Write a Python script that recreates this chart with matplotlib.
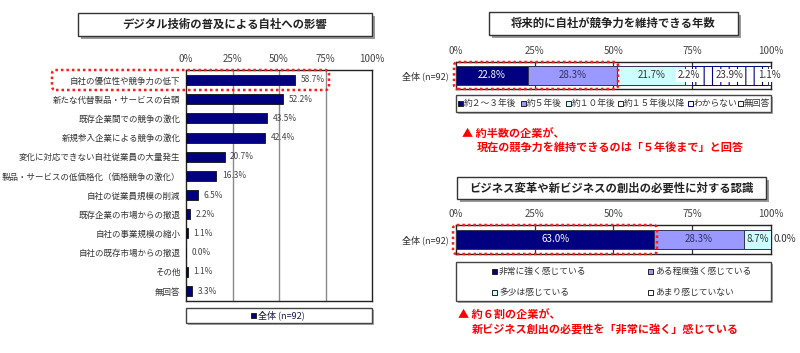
import matplotlib
matplotlib.use('Agg')
import matplotlib.pyplot as plt
from matplotlib.patches import Rectangle, FancyBboxPatch
from matplotlib.transforms import Affine2D

plt.rcParams['font.family'] = ['Noto Sans CJK JP', 'DejaVu Sans']
plt.rcParams['hatch.linewidth'] = 0.8

# ---------------- data ----------------
impact_title = 'デジタル技術の普及による自社への影響'
impact_categories = [
    '自社の優位性や競争力の低下',
    '新たな代替製品・サービスの台頭',
    '既存企業間での競争の激化',
    '新規参入企業による競争の激化',
    '変化に対応できない自社従業員の大量発生',
    '製品・サービスの低価格化（価格競争の激化）',
    '自社の従業員規模の削減',
    '既存企業の市場からの撤退',
    '自社の事業規模の縮小',
    '自社の既存市場からの撤退',
    'その他',
    '無回答',
]
impact_values = [58.7, 52.2, 43.5, 42.4, 20.7, 16.3, 6.5, 2.2, 1.1, 0.0, 1.1, 3.3]
series_name = '全体 (n=92)'

years_title = '将来的に自社が競争力を維持できる年数'
years_labels = ['約２～３年後', '約５年後', '約１０年後', '約１５年後以降', 'わからない', '無回答']
years_values = [22.8, 28.3, 21.7, 2.2, 23.9, 1.1]
years_note = ['▲ 約半数の企業が、', '現在の競争力を維持できるのは「５年後まで」と回答']

need_title = 'ビジネス変革や新ビジネスの創出の必要性に対する認識'
need_labels = ['非常に強く感じている', 'ある程度強く感じている', '多少は感じている', 'あまり感じていない']
need_values = [63.0, 28.3, 8.7, 0.0]
need_note = ['▲ 約６割の企業が、', '新ビジネス創出の必要性を「非常に強く」感じている']

pct_ticks = [0, 25, 50, 75, 100]
pct_tick_labels = ['0%', '25%', '50%', '75%', '100%']

# ---------------- layout helpers ----------------
W, H = 800, 353
fig = plt.figure(figsize=(W / 100, H / 100), dpi=100)
fig.patch.set_facecolor('white')
T = Affine2D().scale(1 / W, 1 / H) + fig.transFigure


def P(y):
    return H - y


def add_ax(x0, y0, x1, y1):
    return fig.add_axes([x0 / W, 1 - y1 / H, (x1 - x0) / W, (y1 - y0) / H])


def title_box(x0, y0, x1, y1, text):
    w, h = x1 - x0, y1 - y0
    fig.patches.append(Rectangle((x0 + 3, P(y1) - 3), w, h, transform=T,
                                 fc='#9a9a9a', ec='none', zorder=1))
    fig.patches.append(Rectangle((x0, P(y1)), w, h, transform=T,
                                 fc='white', ec='#333333', lw=1, zorder=2))
    fig.text((x0 + x1) / 2 / W, 1 - (y0 + y1) / 2 / H, text, ha='center', va='center',
             fontsize=8.2, fontweight='bold', color='#222222', zorder=3)


def plain_box(x0, y0, x1, y1):
    w, h = x1 - x0, y1 - y0
    fig.patches.append(Rectangle((x0 + 1.5, P(y1) - 1.5), w, h, transform=T,
                                 fc='#aaaaaa', ec='none', zorder=1))
    fig.patches.append(Rectangle((x0, P(y1)), w, h, transform=T,
                                 fc='white', ec='#444444', lw=1, zorder=2))


def marker(x, y, fc, hatch=None, ec='#222222'):
    fig.patches.append(Rectangle((x, P(y) - 2.5), 5, 5, transform=T, fc=fc, ec=ec,
                                 lw=0.7, hatch=hatch, zorder=3))


def ftext(x, y, s, **kw):
    fig.text(x / W, 1 - y / H, s, va='center', zorder=4, **kw)


def red_dotted(x0, y0, x1, y1):
    fig.patches.append(FancyBboxPatch((x0, P(y1)), x1 - x0, y1 - y0,
                                      boxstyle='round,pad=0,rounding_size=4', transform=T,
                                      fill=False, ec='#ff1a1a', lw=1.8, ls=(0, (1, 1.2)),
                                      zorder=10))


def pct_axis(ax):
    ax.set_xlim(0, 100)
    ax.xaxis.tick_top()
    ax.set_xticks(pct_ticks)
    ax.set_xticklabels(pct_tick_labels, fontsize=7, color='#444444')
    ax.tick_params(axis='x', length=0, pad=4)
    for s in ax.spines.values():
        s.set_color('#222222')
        s.set_linewidth(1)


# ---------------- left: horizontal bars ----------------
title_box(78, 13, 372, 36, impact_title)
ax1 = add_ax(186, 70, 372, 301)
ypos = list(range(len(impact_categories)))
ax1.barh(ypos, impact_values, height=0.52, color='#000080', edgecolor='#111111',
         lw=0.6, zorder=3)
pct_axis(ax1)
ax1.set_ylim(len(impact_categories) - 0.48, -0.52)
for g in pct_ticks[1:-1]:
    ax1.axvline(g, color='#8a8a8a', lw=1, zorder=1)
ax1.set_yticks(ypos)
ax1.set_yticklabels(impact_categories, fontsize=6.1, color='#333333')
ax1.tick_params(axis='y', length=0, pad=4)
for i, v in enumerate(impact_values):
    ax1.annotate(f'{v:.1f}%', (v, i), xytext=(4, 0), textcoords='offset points',
                 va='center', ha='left', fontsize=6, color='#444444')
red_dotted(52, 70, 329, 90)

plain_box(186, 308, 372, 323)
marker(251, 315.5, '#000080')
ftext(258, 315.5, series_name, fontsize=6.5, color='#1a1a50')


# ---------------- right: stacked bars ----------------
def stacked(ax, values, colors, hatches, tcolors, boxed, bar_h):
    left = 0
    for v, c, hch, tc, bx in zip(values, colors, hatches, tcolors, boxed):
        ec = '#000080' if hch else '#333355'
        if v > 0:
            ax.barh([0], [v], left=left, height=bar_h, color=c, edgecolor=ec,
                    hatch=hch, lw=0.7, zorder=3)
        kw = dict(fontsize=7, color=tc, va='center', zorder=5, clip_on=False)
        if bx:
            kw['bbox'] = dict(fc='white', ec='none', pad=1)
        if v > 0:
            ax.text(left + v / 2, 0, f'{v:.1f}%', ha='center', **kw)
        else:
            ax.annotate(f'{v:.1f}%', (left, 0), xytext=(1.5, 0), textcoords='offset points',
                        ha='left', va='center', fontsize=7, color=tc, annotation_clip=False)
        left += v
    pct_axis(ax)
    ax.set_ylim(-0.5, 0.5)
    for g in pct_ticks[1:-1]:
        ax.axvline(g, color='#333333', lw=0.9, zorder=1)
    ax.set_yticks([0])
    ax.set_yticklabels([series_name], fontsize=6.5, color='#333333')
    ax.tick_params(axis='y', length=0, pad=5)


seg_colors = ['#000080', '#9999ff', '#ccffff', 'white', 'white', 'white']

title_box(489, 12, 738, 35, years_title)
ax2 = add_ax(456, 62, 771, 89)
stacked(ax2, years_values, seg_colors,
        [None, None, None, None, '||', None],
        ['white', '#303060', '#333333', '#333333', '#333333', '#333333'],
        [False, False, False, True, True, True], 0.7)
red_dotted(454, 62, 618, 89)

plain_box(456, 95, 771, 112)
yl_x = [458, 521, 566, 618, 688, 738]
yl_hatch = [None, None, None, None, '||', None]
for x, lab, c, hch in zip(yl_x, years_labels, seg_colors, yl_hatch):
    marker(x, 103.5, c, hatch=hch, ec='#000080' if hch else '#222222')
    ftext(x + 6, 103.5, lab, fontsize=6.3, color='#333333')

ftext(462, 133, years_note[0], fontsize=8, fontweight='bold', color='#ff0000')
ftext(477, 147, years_note[1], fontsize=8, fontweight='bold', color='#ff0000')

title_box(457, 177, 766, 199, need_title)
ax3 = add_ax(456, 225, 771, 254)
stacked(ax3, need_values, seg_colors[:4], [None] * 4,
        ['white', '#303060', '#333333', '#333333'],
        [False, False, False, False], 0.66)
red_dotted(453, 225, 657, 254)

plain_box(456, 262, 771, 301)
nl_pos = [(492, 271), (648, 271), (492, 292), (648, 292)]
for (x, y), lab, c in zip(nl_pos, need_labels, seg_colors[:4]):
    marker(x, y, c)
    ftext(x + 7, y, lab, fontsize=6.3, color='#333333')

ftext(458, 315, need_note[0], fontsize=8, fontweight='bold', color='#ff0000')
ftext(472, 329, need_note[1], fontsize=8, fontweight='bold', color='#ff0000')

fig.savefig('out.png', dpi=100, facecolor='white')
